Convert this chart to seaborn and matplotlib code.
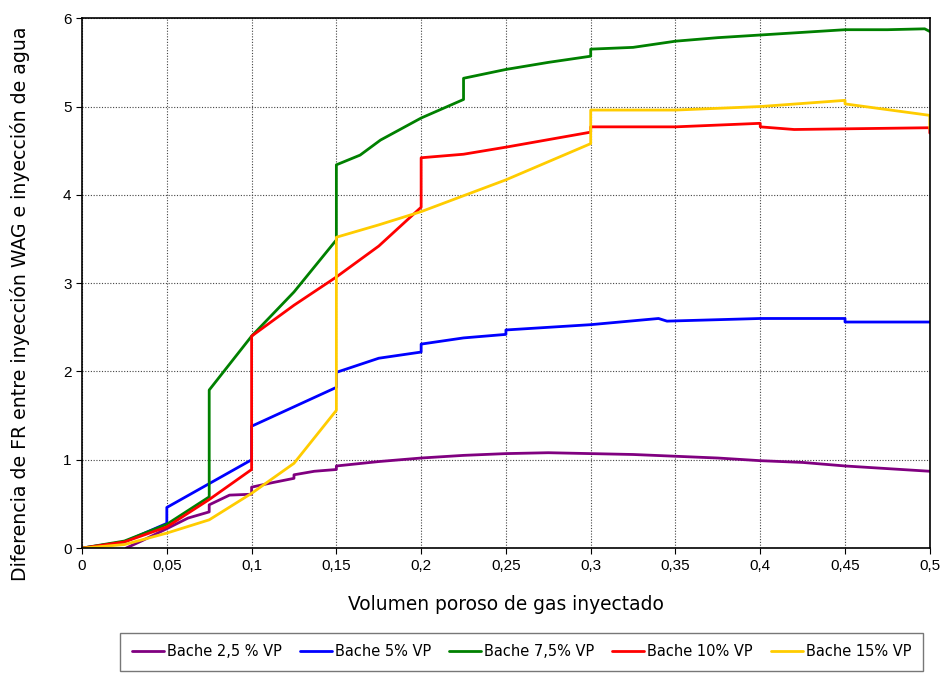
import numpy as np
import pandas as pd
import matplotlib
matplotlib.use('Agg')
import matplotlib.pyplot as plt
import seaborn as sns

# curvas (x = VP de gas inyectado, y = diferencia de FR)
x_25 = [0.026, 0.035, 0.05, 0.0625, 0.075, 0.075, 0.087, 0.1, 0.1, 0.112, 0.125, 0.125, 0.137, 0.15, 0.15,
        0.175, 0.2, 0.225, 0.25, 0.275, 0.3, 0.325, 0.35, 0.375, 0.4, 0.425, 0.45, 0.475, 0.5]
y_25 = [0, 0.08, 0.22, 0.34, 0.41, 0.49, 0.6, 0.61, 0.69, 0.74, 0.79, 0.83, 0.87, 0.89, 0.93,
        0.98, 1.02, 1.05, 1.07, 1.08, 1.07, 1.06, 1.04, 1.02, 0.99, 0.97, 0.93, 0.9, 0.87]

x_5 = [0, 0.025, 0.05, 0.05, 0.075, 0.1, 0.1, 0.125, 0.15, 0.15, 0.175, 0.2, 0.2, 0.225, 0.25, 0.25,
       0.3, 0.34, 0.345, 0.4, 0.45, 0.45, 0.5]
y_5 = [0, 0.07, 0.28, 0.46, 0.73, 1.0, 1.38, 1.6, 1.82, 1.99, 2.15, 2.22, 2.31, 2.38, 2.42, 2.47,
       2.53, 2.6, 2.57, 2.6, 2.6, 2.56, 2.56]

x_75 = [0, 0.025, 0.05, 0.075, 0.075, 0.1, 0.125, 0.15, 0.15, 0.164, 0.176, 0.2, 0.225, 0.225, 0.25,
        0.275, 0.3, 0.3, 0.325, 0.35, 0.375, 0.4, 0.45, 0.475, 0.497, 0.5]
y_75 = [0, 0.08, 0.27, 0.58, 1.79, 2.4, 2.9, 3.49, 4.34, 4.45, 4.62, 4.87, 5.08, 5.32, 5.42,
        5.5, 5.57, 5.65, 5.67, 5.74, 5.78, 5.81, 5.87, 5.87, 5.88, 5.85]

x_10 = [0, 0.025, 0.05, 0.075, 0.1, 0.1, 0.125, 0.15, 0.175, 0.2, 0.2, 0.225, 0.25, 0.3, 0.3,
        0.35, 0.4, 0.4, 0.42, 0.5, 0.5]
y_10 = [0, 0.07, 0.24, 0.55, 0.89, 2.4, 2.75, 3.07, 3.42, 3.86, 4.42, 4.46, 4.54, 4.71, 4.77,
        4.77, 4.81, 4.77, 4.74, 4.76, 4.7]

x_15 = [0, 0.025, 0.05, 0.075, 0.1, 0.125, 0.15, 0.15, 0.175, 0.2, 0.25, 0.3, 0.3, 0.35, 0.4,
        0.45, 0.45, 0.5, 0.5]
y_15 = [0, 0.04, 0.17, 0.32, 0.62, 0.96, 1.56, 3.52, 3.66, 3.81, 4.17, 4.58, 4.96, 4.96, 5.0,
        5.07, 5.03, 4.9, 4.75]

names = ['Bache 2,5 % VP', 'Bache 5% VP', 'Bache 7,5% VP', 'Bache 10% VP', 'Bache 15% VP']
colors = ['#800080', '#0000FF', '#008000', '#FF0000', '#FFCC00']
xs = [x_25, x_5, x_75, x_10, x_15]
ys = [y_25, y_5, y_75, y_10, y_15]

xticks = [0, 0.05, 0.1, 0.15, 0.2, 0.25, 0.3, 0.35, 0.4, 0.45, 0.5]
xtick_labels = ['0', '0,05', '0,1', '0,15', '0,2', '0,25', '0,3', '0,35', '0,4', '0,45', '0,5']
yticks = [0, 1, 2, 3, 4, 5, 6]

sns.set_style('white')
plt.rcParams['font.family'] = ['DejaVu Sans']
plt.rcParams['text.color'] = 'black'
plt.rcParams['axes.labelcolor'] = 'black'
plt.rcParams['xtick.color'] = 'black'
plt.rcParams['ytick.color'] = 'black'

fig = plt.figure(figsize=(9.43, 6.75), dpi=100)
ax = fig.add_axes([0.087, 0.188, 0.899, 0.785])

for i in range(len(names)):
    df = pd.DataFrame({'x': xs[i], 'y': ys[i]})
    sns.lineplot(data=df, x='x', y='y', ax=ax, sort=False, estimator=None,
                 color=colors[i], linewidth=2, label=names[i])

ax.set_xlim(0, 0.5)
ax.set_ylim(0, 6)
ax.set_xticks(xticks)
ax.set_xticklabels(xtick_labels, family=['Liberation Sans', 'DejaVu Sans'], fontsize=11)
ax.set_yticks(yticks)
ax.set_yticklabels([str(v) for v in yticks], family=['Liberation Sans', 'DejaVu Sans'], fontsize=11)
ax.tick_params(axis='both', length=4, direction='out', color='black', bottom=True, left=True)
ax.grid(True, linestyle=(0, (1, 1.5)), color='#444444', linewidth=0.8)
for s in ax.spines.values():
    s.set_color('black')
    s.set_linewidth(1.2)

ax.set_xlabel('Volumen poroso de gas inyectado', fontsize=13.4, labelpad=16)
ax.set_ylabel('Diferencia de FR entre inyección WAG e inyección de agua', fontsize=13.6)
ax.yaxis.set_label_coords(-0.061, 0.462)

handles, labels = ax.get_legend_handles_labels()
ax.get_legend().remove()
leg = fig.legend(handles, labels, ncol=5, loc='center',
                 bbox_to_anchor=(113 / 943, 3 / 675, 817 / 943, 40 / 675),
                 bbox_transform=fig.transFigure, frameon=True, fancybox=False, mode='expand',
                 prop={'family': ['DejaVu Sans'], 'size': 10.5},
                 handlelength=2.2, handletextpad=0.2, borderpad=0.8)
leg.get_frame().set_edgecolor('#555555')
leg.get_frame().set_linewidth(1.0)

fig.savefig('out.png', dpi=100)
